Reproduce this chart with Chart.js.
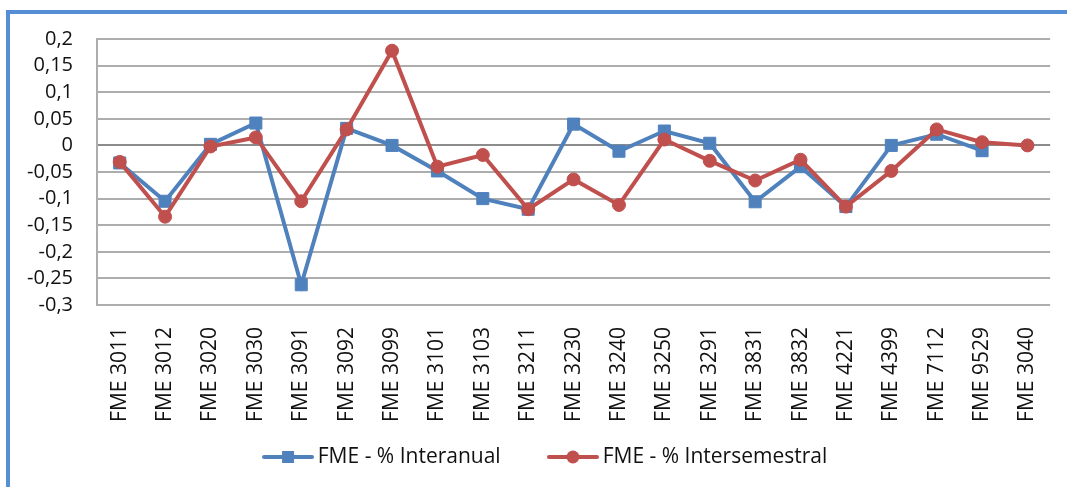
<!DOCTYPE html>
<html>
<head>
<meta charset="utf-8">
<script src="https://cdn.jsdelivr.net/npm/chart.js@4.4.1/dist/chart.umd.min.js"></script>
<style>
  html, body { margin: 0; padding: 0; background: #fff; overflow: hidden; }
  #wrap { position: relative; width: 1067px; height: 487px; overflow: hidden; }
  #frame { position: absolute; left: 6px; top: 10px; width: 1200px; height: 600px;
           border-left: 4px solid #558ED5; border-top: 4px solid #558ED5; }
  canvas { position: absolute; left: 0; top: 0; }
</style>
</head>
<body>
<div id="wrap">
  <div id="frame"></div>
  <canvas id="fme" width="1067" height="487"></canvas>
</div>
<script>
const categories = ['FME 3011', 'FME 3012', 'FME 3020', 'FME 3030', 'FME 3091', 'FME 3092', 'FME 3099',
  'FME 3101', 'FME 3103', 'FME 3211', 'FME 3230', 'FME 3240', 'FME 3250', 'FME 3291', 'FME 3831',
  'FME 3832', 'FME 4221', 'FME 4399', 'FME 7112', 'FME 9529', 'FME 3040'];

const interanual = [-0.033, -0.105, 0.002, 0.042, -0.262, 0.032, 0.0, -0.048, -0.1, -0.12, 0.04,
  -0.011, 0.027, 0.004, -0.106, -0.04, -0.115, 0.0, 0.021, -0.01, null];

const intersemestral = [-0.031, -0.134, -0.002, 0.015, -0.105, 0.03, 0.178, -0.04, -0.018, -0.12, -0.064,
  -0.112, 0.011, -0.029, -0.066, -0.027, -0.115, -0.048, 0.03, 0.006, 0.0];

const seriesNames = ['FME - % Interanual', 'FME - % Intersemestral'];
const yMin = -0.3, yMax = 0.2, yStep = 0.05;

const BLUE = '#4F81BD';
const RED = '#C0504D';

Chart.defaults.font.family = "'Open Sans', sans-serif";

// legend swatch: blank lead-in on the left, then line + marker
const SWATCH_BOX = 81.5;
function legendSwatch(color, style) {
  const c = document.createElement('canvas');
  c.width = 95; c.height = 16;
  const g = c.getContext('2d');
  const x0 = 45, x1 = 93, mid = (x0 + x1) / 2;
  g.strokeStyle = color;
  g.lineWidth = 4;
  g.lineCap = 'round';
  g.beginPath(); g.moveTo(x0, 8); g.lineTo(x1, 8); g.stroke();
  g.fillStyle = color;
  if (style === 'rect') {
    g.fillRect(mid - 6, 2, 12, 12);
  } else {
    g.beginPath(); g.arc(mid, 8, 6.5, 0, Math.PI * 2); g.fill();
  }
  return c;
}
const swatches = [legendSwatch(BLUE, 'rect'), legendSwatch(RED, 'circle')];

function commaNum(v) {
  return String(Math.round(v * 100) / 100).replace('.', ',');
}

new Chart(document.getElementById('fme'), {
  type: 'line',
  data: {
    labels: categories,
    datasets: [{
      label: seriesNames[0],
      data: interanual,
      borderColor: BLUE,
      backgroundColor: BLUE,
      borderWidth: 4,
      pointStyle: 'rect',
      pointRadius: 8.5,
      pointBorderWidth: 1,
      tension: 0,
      order: 1
    }, {
      label: seriesNames[1],
      data: intersemestral,
      borderColor: RED,
      backgroundColor: RED,
      borderWidth: 4,
      pointStyle: 'circle',
      pointRadius: 6.5,
      pointBorderWidth: 1,
      tension: 0,
      order: 0
    }]
  },
  options: {
    responsive: false,
    animation: false,
    events: [],
    layout: { padding: { left: 0, right: 14, top: 39, bottom: 9.5 } },
    scales: {
      x: {
        offset: true,
        grid: { display: false },
        border: { display: false },
        ticks: {
          minRotation: 90,
          maxRotation: 90,
          autoSkip: false,
          padding: 14,
          color: '#111',
          font: { size: 21 }
        },
        afterFit: s => { s.height = 131.5; }
      },
      y: {
        min: yMin,
        max: yMax,
        grid: {
          drawTicks: false,
          lineWidth: 2,
          color: c => c.tick && c.tick.value === 0 ? '#8C8C8C' : '#ADADAD'
        },
        border: { display: true, color: '#ADADAD', width: 2 },
        ticks: {
          stepSize: yStep,
          autoSkip: false,
          padding: 24,
          color: '#111',
          font: { size: 20 },
          callback: v => commaNum(v)
        },
        afterFit: s => { s.width = 97; }
      }
    },
    plugins: {
      tooltip: { enabled: false },
      legend: {
        position: 'bottom',
        labels: {
          usePointStyle: true,
          pointStyleWidth: SWATCH_BOX,
          padding: 10,
          color: '#111',
          font: { size: 21 },
          sort: (a, b) => a.datasetIndex - b.datasetIndex,
          generateLabels: chart => {
            const items = Chart.defaults.plugins.legend.labels.generateLabels(chart);
            items.forEach(it => { it.pointStyle = swatches[it.datasetIndex]; });
            return items;
          }
        }
      }
    }
  }
});
</script>
</body>
</html>
